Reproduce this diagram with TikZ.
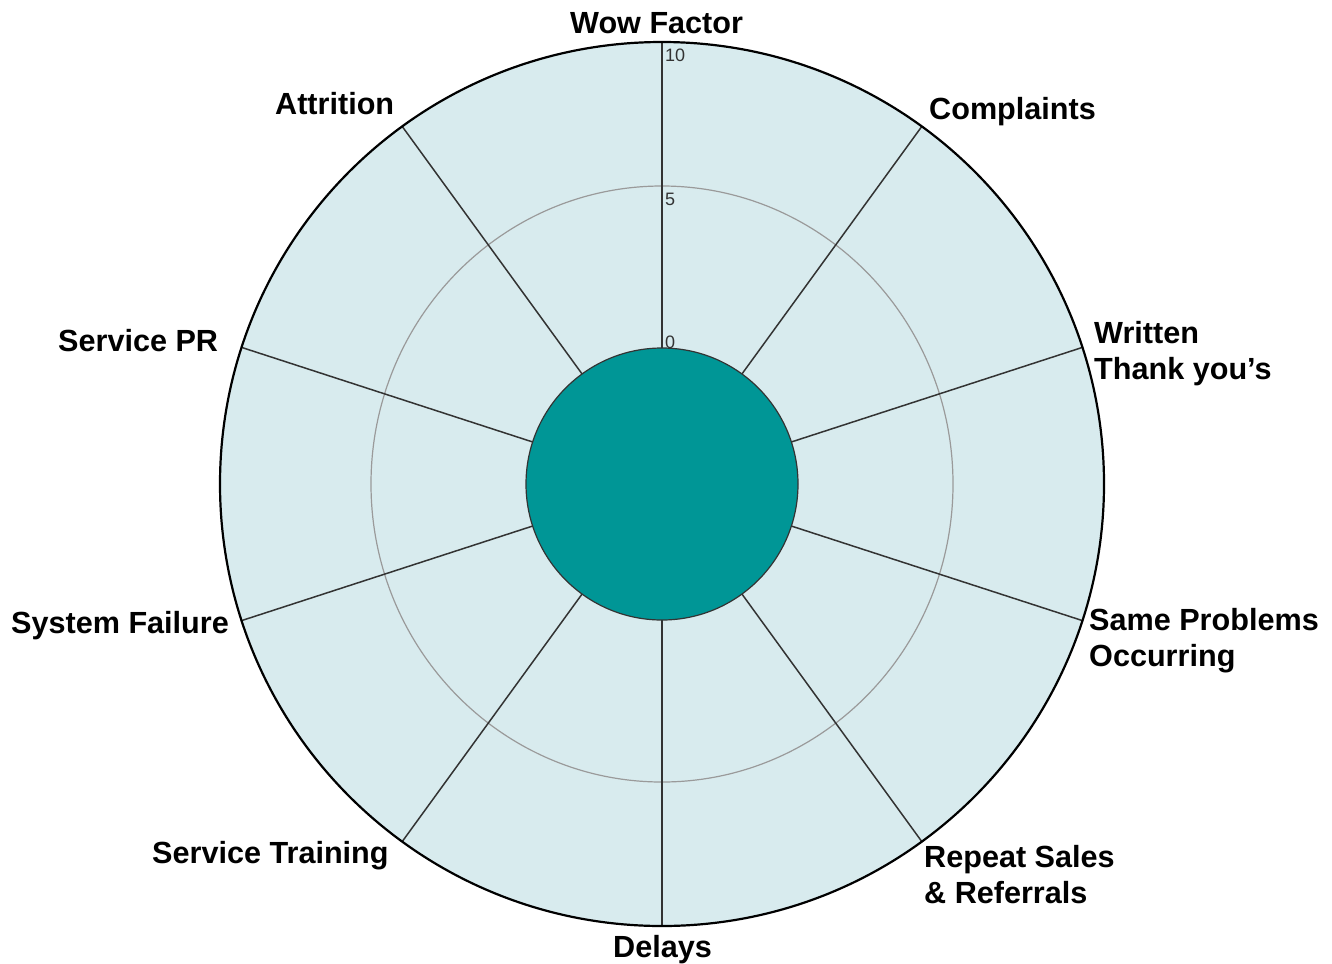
\documentclass[tikz,border=0pt]{standalone}
\usepackage{fontspec}
\setmainfont{Liberation Sans}
\definecolor{sectorfill}{HTML}{D8EBEE}
\definecolor{hubfill}{HTML}{009696}
\definecolor{ringgrey}{HTML}{9A9A9A}
\definecolor{spokecol}{HTML}{333333}
\definecolor{numcol}{HTML}{333333}
\begin{document}
\begin{tikzpicture}[x=1bp,y=-1bp,
  lbl/.style={inner sep=0pt, anchor=base west, font=\fontsize{30.6bp}{36bp}\selectfont\bfseries},
  num/.style={inner sep=0pt, anchor=base west, text=numcol, font=\fontsize{18bp}{20bp}\selectfont},
  spoke/.style={draw=spokecol, line width=1.5bp},
  ring/.style={draw=ringgrey, line width=1.2bp}]
\useasboundingbox (0,0) rectangle (1332,963);
\coordinate (c) at (662,484);
% disc
\fill[sectorfill] (c) circle [radius=442];
% scale ring 5
\draw[ring] (c) ellipse [x radius=291, y radius=298];
% spokes
\foreach \a in {90,54,18,-18,-54,-90,-126,-162,162,126}
  \draw[spoke] (c) -- ++(\a:442);
% outer border
\draw[black, line width=2.2bp] (c) circle [radius=442];
% hub
\filldraw[fill=hubfill, draw=spokecol, line width=1.2bp] (c) circle [radius=136];
% scale numbers
\node[num] (n10) at (665,61) {10};
\node[num] (n5) at (665,205) {5};
\node[num] (n0) at (665,348) {0};
% labels
\node[lbl] (wow) at (570,33) {Wow Factor};
\node[lbl] (compl) at (929,119) {Complaints};
\node[lbl] (writ1) at (1094,343) {Written};
\node[lbl] (writ2) at (1094,379) {Thank you’s};
\node[lbl] (same1) at (1089,630) {Same Problems};
\node[lbl] (same2) at (1089,666) {Occurring};
\node[lbl] (rep1) at (924,867) {Repeat Sales};
\node[lbl] (rep2) at (924,903) {\& Referrals};
\node[lbl] (del) at (613,957) {Delays};
\node[lbl] (train) at (152,863) {Service Training};
\node[lbl] (sys) at (11,633) {System Failure};
\node[lbl] (spr) at (58,351) {Service PR};
\node[lbl] (attr) at (275,114) {Attrition};
\end{tikzpicture}
\end{document}
